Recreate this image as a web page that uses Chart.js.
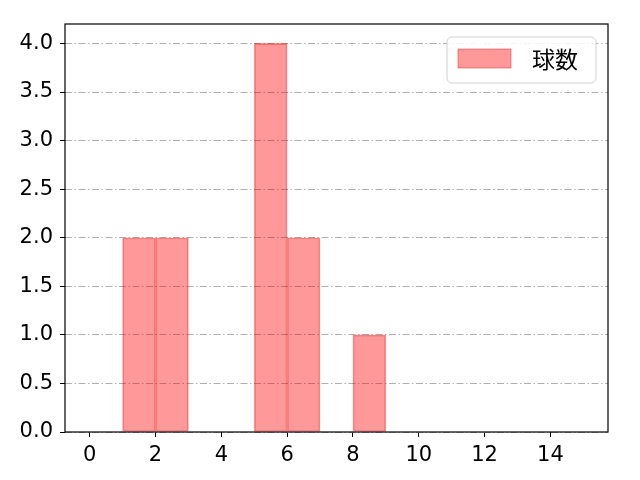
<!DOCTYPE html>
<html>
<head>
<meta charset="utf-8">
<script src="https://cdn.jsdelivr.net/npm/chart.js@4"></script>
<style>
  html, body { margin: 0; padding: 0; background: #fff; }
  #wrap { width: 640px; height: 480px; }
</style>
</head>
<body>
<div id="wrap"><canvas id="pitches" width="640" height="480"></canvas></div>
<script>
// histogram bins (edges) and counts per bin
const binEdges = [0, 1, 2, 3, 4, 5, 6, 7, 8, 9, 10, 11, 12, 13, 14, 15];
const counts = [0, 2, 2, 0, 0, 4, 2, 0, 1, 0, 0, 0, 0, 0, 0];
const xTicks = [0, 2, 4, 6, 8, 10, 12, 14];
const yTicks = [0, 0.5, 1, 1.5, 2, 2.5, 3, 3.5, 4];
const seriesLabel = '球数';

const FONT = "'Noto Sans CJK JP', 'Noto Sans', sans-serif";
const TICK_FONT = "'DejaVu Sans', sans-serif";
const fill = 'rgba(255, 0, 0, 0.4)';
const edge = 'rgba(230, 0, 0, 0.4)';
const dashDot = [7, 2.5, 1.5, 2.5];

const points = counts.map((c, i) => ({ x: (binEdges[i] + binEdges[i + 1]) / 2, y: c }));

// box around the plot + legend inside the plot, matplotlib style
const framePlugin = {
    id: 'frame',
    afterDraw: (chart) => {
        const ctx = chart.ctx;
        const a = chart.chartArea;
        ctx.save();
        ctx.strokeStyle = '#000';
        ctx.lineWidth = 1.2;
        ctx.strokeRect(a.left, a.top, a.right - a.left, a.bottom - a.top);

        // legend
        const bx = a.right - 161, by = a.top + 13, bw = 149, bh = 46;
        ctx.beginPath();
        ctx.roundRect(bx, by, bw, bh, 5);
        ctx.fillStyle = 'rgba(255,255,255,0.85)';
        ctx.fill();
        ctx.strokeStyle = '#d0d0d0';
        ctx.lineWidth = 1;
        ctx.stroke();
        ctx.fillStyle = fill;
        ctx.fillRect(bx + 11, by + 12, 53, 19);
        ctx.strokeStyle = edge;
        ctx.strokeRect(bx + 11, by + 12, 53, 19);
        ctx.fillStyle = '#000';
        ctx.font = '23px ' + FONT;
        ctx.textBaseline = 'middle';
        ctx.textAlign = 'left';
        ctx.fillText(chart.data.datasets[0].label, bx + 85, by + 22);
        ctx.restore();
    }
};

const ctx = document.querySelector('#pitches');
const pitchChart = new Chart(ctx, {
    type: 'bar',
    data: {
        datasets: [{
            label: seriesLabel,
            data: points,
            backgroundColor: fill,
            borderColor: edge,
            borderWidth: 1,
            borderSkipped: false,
            barPercentage: 1,
            categoryPercentage: 1
        }]
    },
    options: {
        responsive: false,
        animation: false,
        devicePixelRatio: 1,
        layout: { padding: { left: 0, right: 32, top: 24, bottom: 0 } },
        plugins: { legend: { display: false }, tooltip: { enabled: false } },
        scales: {
            x: {
                type: 'linear',
                offset: false,
                min: -0.75,
                max: 15.75,
                afterBuildTicks: (s) => { s.ticks = xTicks.map(v => ({ value: v })); },
                afterFit: (s) => { s.height = 48; },
                grid: { offset: false, drawOnChartArea: false, drawTicks: true, tickLength: 5, tickColor: '#000' },
                border: { display: false },
                ticks: { color: '#000', padding: 6, font: { family: TICK_FONT, size: 21 } }
            },
            y: {
                min: 0,
                max: 4.2,
                afterBuildTicks: (s) => { s.ticks = yTicks.map(v => ({ value: v })); },
                afterFit: (s) => { s.width = 65; },
                grid: {
                    color: '#b0b0b0',
                    lineWidth: 1,
                    borderDash: dashDot,
                    tickBorderDash: [0, 0],
                    tickColor: '#000',
                    tickLength: 5
                },
                border: { display: false, dash: dashDot },
                ticks: {
                    color: '#000',
                    padding: 7,
                    font: { family: TICK_FONT, size: 21 },
                    callback: (v) => v.toFixed(1)
                }
            }
        }
    },
    plugins: [framePlugin]
});
</script>
</body>
</html>
